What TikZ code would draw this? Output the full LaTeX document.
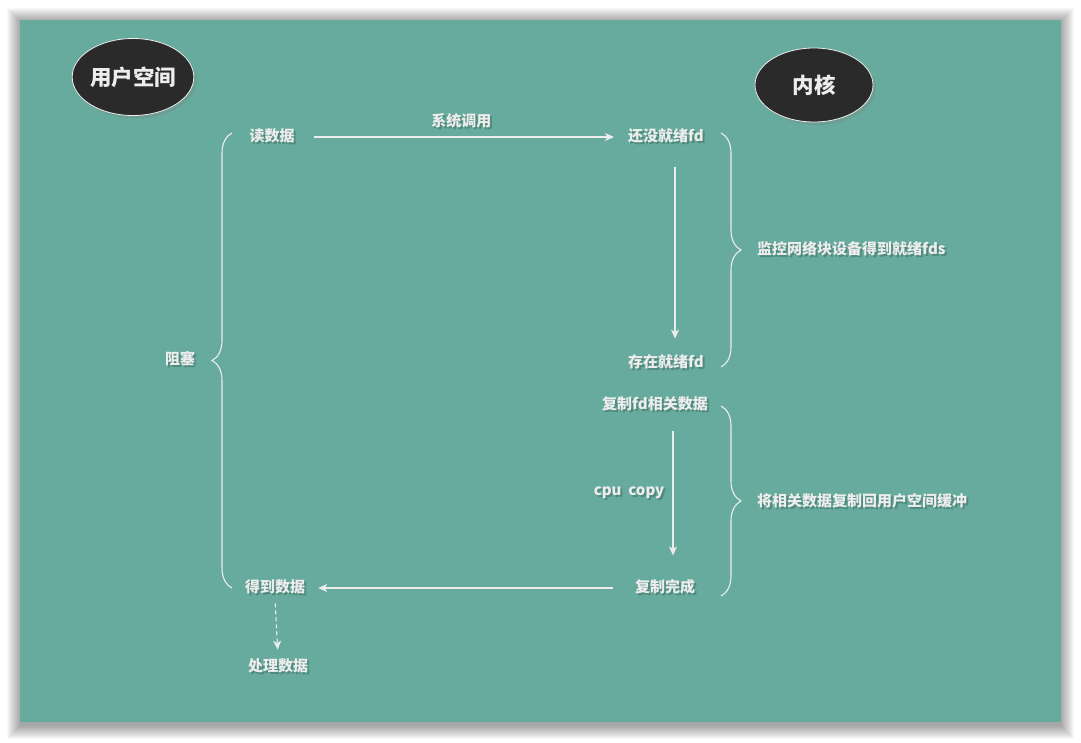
\documentclass[tikz,border=0pt]{standalone}
\usepackage{fontspec}
\setmainfont{Noto Sans CJK SC}
\usetikzlibrary{arrows.meta,shadows,shapes.geometric,decorations.pathreplacing}

\definecolor{bgteal}{HTML}{66AB9D}
\definecolor{blob}{HTML}{2A2A2A}
\definecolor{linec}{HTML}{EDEDED}
\definecolor{textsh}{HTML}{4F8A7D}

% text with a soft shadow behind it
\newcommand\shd[1]{\makebox[0pt][l]{\raisebox{-2pt}{\hspace{2pt}\textcolor{textsh}{#1}}}#1}

\tikzset{
  txt/.style={text=linec, font=\bfseries\fontsize{15}{17}\selectfont, inner sep=2pt},
  side/.style={txt, anchor=west},
  blobnode/.style={ellipse, draw=linec, line width=0.8pt, fill=blob, text=linec, inner sep=0pt,
    font=\bfseries\fontsize{21.5}{25}\selectfont, minimum width=118pt, minimum height=77pt,
    drop shadow={shadow xshift=3pt, shadow yshift=-3pt, opacity=0.3}},
  arr/.style={-{Stealth[length=9pt, width=8pt, inset=2.5pt]}, draw=linec, line width=1.1pt},
  brc/.style={decorate, decoration={brace, amplitude=20pt}, draw=linec, line width=1.1pt},
}

\begin{document}
\begin{tikzpicture}[x=1pt, y=-1pt]
\useasboundingbox (0,0) rectangle (1081,742);

% Background with soft shadow
\fill[white] (0,0) rectangle (1081,742);
\foreach \i in {1,...,14}
  \fill[black, opacity=0.028] (21-\i,22-\i) rectangle (1060+\i,725+\i);
\fill[bgteal] (20,20) rectangle (1061,722);

% Titles
\node[blobnode] (user) at (133,77) {用户空间};
\node[blobnode, minimum height=74pt] (kernel) at (814,85) {内核};

% User side
\node[txt] (read) at (272,137) {\shd{读数据}};
\node[txt] (got) at (275,588) {\shd{得到数据}};
\node[txt] (handle) at (278,667) {\shd{处理数据}};

% Kernel side
\node[txt] (notready) at (666,137) {\shd{还没就绪fd}};
\node[txt] (ready) at (666,363) {\shd{存在就绪fd}};
\node[txt] (copyfd) at (655,405) {\shd{复制fd相关数据}};
\node[txt] (done) at (665,588) {\shd{复制完成}};

% Arrows
\draw[arr, shorten <=17pt, shorten >=12pt] (read.east) -- (notready.west)
  node[txt, midway, above=4pt] (syscall) {\shd{系统调用}};
\draw[arr, shorten <=20pt, shorten >=14pt] ([xshift=9pt]notready.south) -- ([xshift=9pt]ready.north);
\draw[arr, shorten <=16pt, shorten >=22pt] ([xshift=18pt]copyfd.south) -- ([xshift=8pt]done.north);
\node[txt] (cpucopy) at (629,494) {\shd{cpu\ \ copy}};
\draw[arr, shorten <=20pt, shorten >=11pt] (done.west) -- (got.east);
\draw[arr, dash pattern=on 4pt off 3pt, shorten <=5pt, shorten >=7pt] (got.south) -- (handle.north);

% Braces
\coordinate (b1top) at (721,133);
\coordinate (b1bot) at (721,367);
\coordinate (b2top) at (721,406);
\coordinate (b2bot) at (721,596);
\coordinate (b3top) at (232,133);
\coordinate (b3bot) at (232,588);
\draw[brc] (b1top) -- (b1bot);
\draw[brc] (b2top) -- (b2bot);
\draw[brc] (b3bot) -- (b3top);
\node[side] (monitor) at (755,250) {\shd{监控网络块设备得到就绪fds}};
\node[side] (copyback) at (755,502) {\shd{将相关数据复制回用户空间缓冲}};
\node[txt] (block) at (180,360) {\shd{阻塞}};

\end{tikzpicture}
\end{document}
